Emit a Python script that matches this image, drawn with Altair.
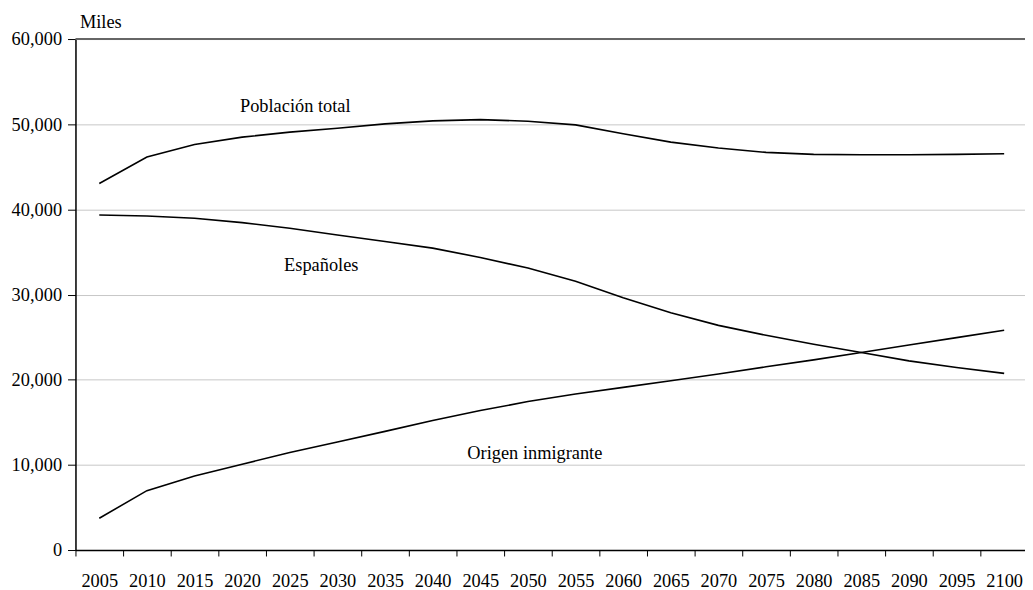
import altair as alt
import pandas as pd

years = ["2005", "2010", "2015", "2020", "2025", "2030", "2035", "2040", "2045", "2050",
         "2055", "2060", "2065", "2070", "2075", "2080", "2085", "2090", "2095", "2100"]
poblacion_total = [43040, 46150, 47620, 48480, 49070, 49530, 50040, 50390, 50540, 50350,
                   49920, 48870, 47900, 47200, 46690, 46460, 46420, 46420, 46460, 46540]
espanoles = [39340, 39220, 38950, 38440, 37780, 37000, 36220, 35450, 34350, 33110,
             31550, 29610, 27860, 26380, 25210, 24160, 23190, 22210, 21440, 20740]
origen_inmigrante = [3735, 6970, 8680, 10080, 11440, 12690, 13930, 15210, 16380, 17430,
                     18330, 19100, 19880, 20660, 21510, 22330, 23190, 24080, 24940, 25800]

series_names = ["Población total", "Españoles", "Origen inmigrante"]
label_year = ["2025", "2030", "2050"]
label_value = [51400, 32720, 10740]
label_dx = [5.5, -16.3, 7]

FONT = "'Liberation Serif', 'Times New Roman', Times, serif"
FS = 18.5

rows = []
for name, vals in zip(series_names, [poblacion_total, espanoles, origen_inmigrante]):
    for y, v in zip(years, vals):
        rows.append({"year": y, "value": v, "series": name})
df = pd.DataFrame(rows)

xscale = alt.Scale(type="band", domain=years, paddingInner=0, paddingOuter=0, range=[0, 960])
yscale = alt.Scale(domain=[0, 60000], nice=False)

xaxis = alt.Axis(title=None, tickBand="extent", labelAngle=0,
                 labelFont=FONT, labelFontSize=FS, labelColor="black",
                 domainColor="black", domainWidth=1.5, tickColor="black", tickSize=6,
                 labelPadding=16, grid=False)
yaxis = alt.Axis(title="Miles", titleAngle=0, titleX=4, titleY=-12, titleAlign="left",
                 titleBaseline="alphabetic", titleFont=FONT, titleFontSize=FS,
                 titleFontWeight="normal", titleColor="black",
                 values=[0, 10000, 20000, 30000, 40000, 50000, 60000], format=",d",
                 labelFont=FONT, labelFontSize=FS, labelColor="black", labelPadding=6,
                 domainColor="black", domainWidth=1.5, tickColor="black", tickSize=8,
                 gridColor="#c8c8c8", gridWidth=1)

lines = alt.Chart(df).mark_line(color="black", strokeWidth=1.6).encode(
    x=alt.X("year:O", scale=xscale, axis=xaxis),
    y=alt.Y("value:Q", scale=yscale, axis=yaxis),
    detail="series:N",
)

top = alt.Chart(pd.DataFrame({"v": [60000]})).mark_rule(color="#666666", strokeWidth=2).encode(
    y=alt.Y("v:Q", scale=yscale)
)

texts = []
for name, yr, val, dx in zip(series_names, label_year, label_value, label_dx):
    tdf = pd.DataFrame({"year": [yr], "value": [val], "label": [name]})
    texts.append(
        alt.Chart(tdf).mark_text(font=FONT, fontSize=FS, color="black", align="center",
                                 baseline="alphabetic", dx=dx).encode(
            x=alt.X("year:O", scale=xscale),
            y=alt.Y("value:Q", scale=yscale),
            text="label:N",
        )
    )

chart = alt.layer(top, lines, *texts).properties(
    width=957, height=515,
    autosize=alt.AutoSizeParams(type="none"),
    padding={"left": 68, "top": 29, "right": 0, "bottom": 38},
).configure_view(stroke=None).configure(background="white")

chart.save("out.html", embed_options={"renderer": "svg", "actions": False})
